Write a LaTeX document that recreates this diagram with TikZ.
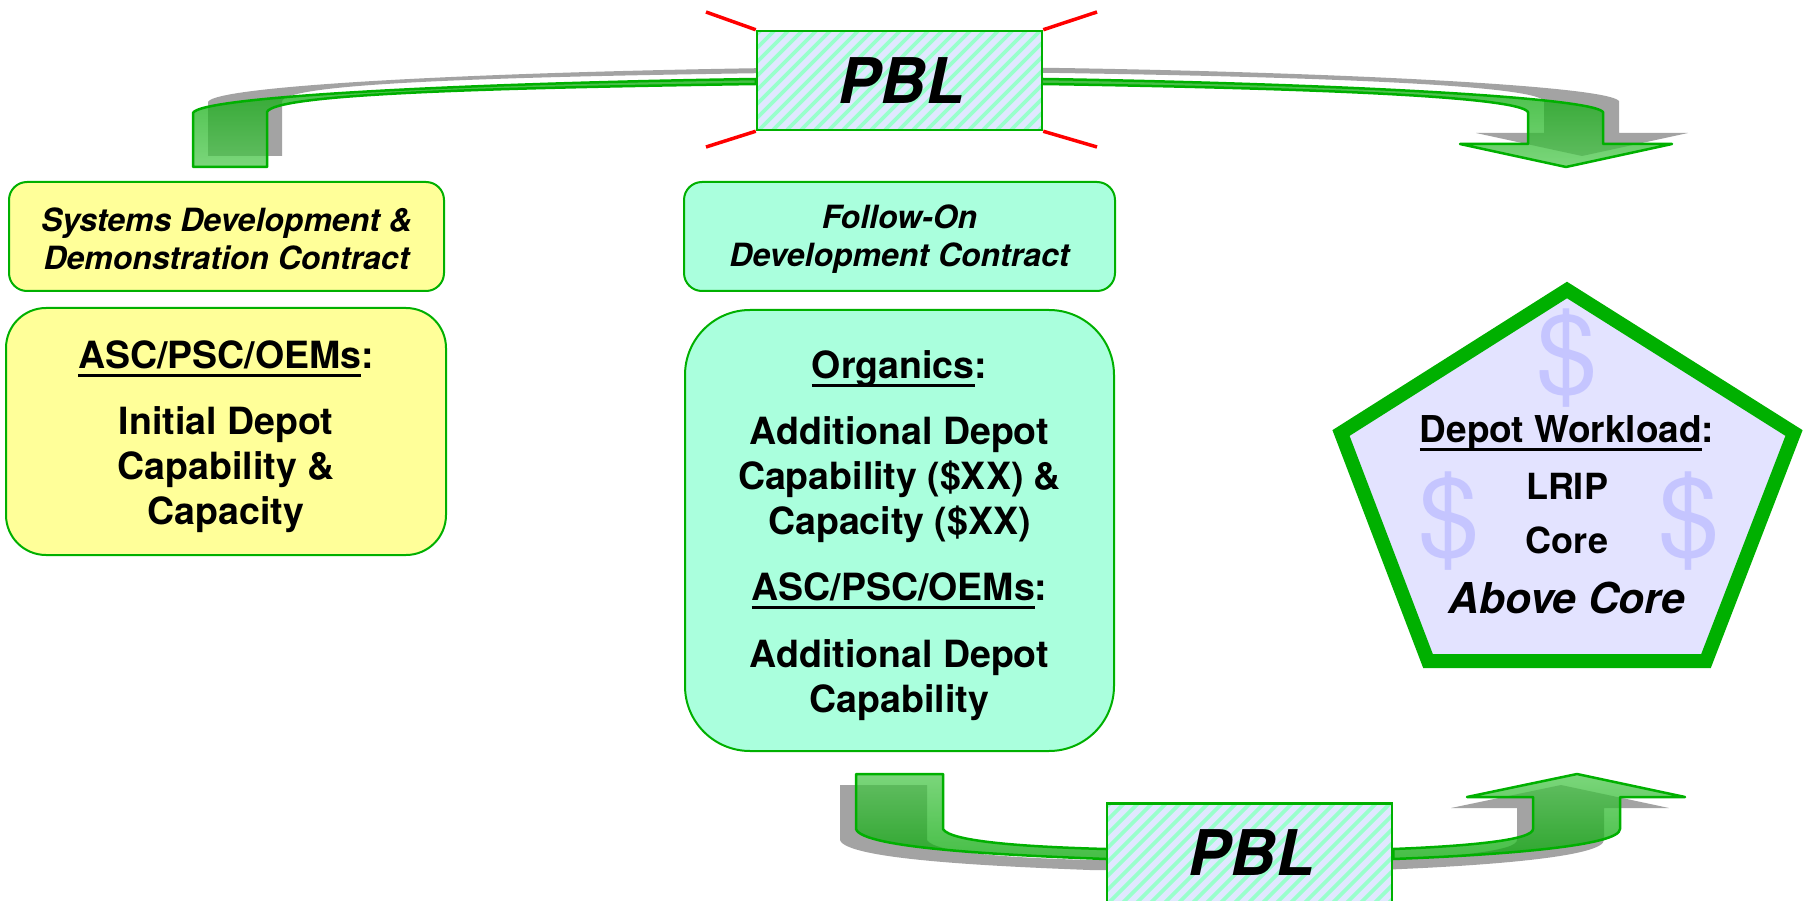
\documentclass[tikz,border=0pt]{standalone}
\usepackage{fontspec}
\setmainfont{TeX Gyre Heros}
\usetikzlibrary{backgrounds}
\definecolor{lineGreen}{HTML}{00B000}
\definecolor{boxYellow}{HTML}{FFFF99}
\definecolor{boxTeal}{HTML}{AAFFDD}
\definecolor{hatchBlue}{HTML}{E0E8FF}
\definecolor{hatchMint}{HTML}{99FFCC}
\definecolor{penFill}{HTML}{E3E3FF}
\definecolor{dollarBlue}{HTML}{C5C5FF}
\definecolor{shadowGray}{HTML}{A3A3A3}
\definecolor{arrowLight}{HTML}{4FC84F}
\definecolor{arrowDark}{HTML}{08A808}
\newcommand{\heavyUnder}[1]{\setbox0\hbox{#1}\rlap{\rule[-8.5pt]{\wd0}{2.8pt}}\box0}
\newcommand{\pathTopLeft}{(193,167) -- (193,113) .. controls (200,96) and (480,83) .. ([yshift=1.5pt]pblTop.west) -- ([yshift=-3.5pt]pblTop.west) .. controls (480,88) and (275,94) .. (267,112) -- (267,167) -- cycle}
\newcommand{\pathTopRight}{([xshift=-20pt,yshift=1.5pt]pblTop.east) -- ([yshift=1.5pt]pblTop.east) .. controls (1300,83) and (1590,96) .. (1603,112) -- (1603,144) -- (1672,144) -- (1566,167) -- (1460,144) -- (1528,144) -- (1528,112) .. controls (1518,96) and (1300,88) .. ([yshift=-3.5pt]pblTop.east) -- ([xshift=-20pt,yshift=-3.5pt]pblTop.east) -- cycle}
\newcommand{\pathBotLeft}{(856,774) -- (943,774) -- (943,829) .. controls (950,842) and (1030,847) .. ([yshift=4pt]pblBot.west) -- ([xshift=20pt,yshift=4pt]pblBot.west) -- ([xshift=20pt,yshift=-6pt]pblBot.west) -- ([yshift=-6pt]pblBot.west) .. controls (1000,855) and (862,848) .. (856,829) -- cycle}
\newcommand{\pathBotRight}{([yshift=4pt]pblBot.east) .. controls (1470,846) and (1533,840) .. (1533,829) -- (1533,797) -- (1467,797) -- (1577,774) -- (1685,797) -- (1620,797) -- (1620,829) .. controls (1620,846) and (1500,855) .. ([yshift=-6pt]pblBot.east) -- cycle}
\begin{document}
\begin{tikzpicture}
    [x=1pt, y=-1pt,
    pblBox/.style={draw=lineGreen, line width=2.5pt, fill=hatchBlue, minimum width=285pt, minimum height=99pt, inner sep=0pt,
        font=\fontsize{63}{63}\selectfont\bfseries\itshape,
        path picture={\foreach \i in {-110,-96,...,300} \draw[hatchMint, line width=3.8pt] ([xshift=\i pt]path picture bounding box.south west) -- ++(110,-110);}},
    labelBox/.style={draw=lineGreen, line width=2pt, rounded corners=18pt, minimum height=109pt, inner sep=0pt, align=center,
        font=\fontsize{32}{38}\selectfont\bfseries\itshape},
    bodyBox/.style={draw=lineGreen, line width=2pt, inner sep=0pt, align=center,
        font=\fontsize{37.5}{45}\selectfont\bfseries},
    penText/.style={inner sep=0pt, font=\fontsize{36}{36}\selectfont\bfseries},
    dollarSign/.style={inner sep=0pt, text=dollarBlue, font=\fontsize{110}{110}\selectfont},
    redLine/.style={red, line width=3.5pt},
    shadowArrow/.style={fill=shadowGray},
    greenArrow/.style={draw=lineGreen, line width=2.5pt, line join=round, fill opacity=0.75}]
    \useasboundingbox (0,0) rectangle (1808,901);

    \node[pblBox] (pblTop) at (899.5,80.5) {\hspace*{4pt}\raisebox{-2pt}{PBL}};
    \node[pblBox] (pblBot) at (1249.5,853) {\hspace*{4pt}\raisebox{-2pt}{PBL}};

    \begin{scope}[on background layer]
        \fill[shadowArrow, transform canvas={xshift=15pt,yshift=11pt}] \pathTopLeft;
        \fill[shadowArrow, transform canvas={xshift=16pt,yshift=11pt}] \pathTopRight;
        \fill[shadowArrow, transform canvas={xshift=-16pt,yshift=-11pt}] \pathBotLeft;
        \fill[shadowArrow, transform canvas={xshift=-16pt,yshift=-11pt}] \pathBotRight;
        \draw[greenArrow, top color=arrowDark, bottom color=arrowLight] \pathTopLeft;
        \draw[greenArrow, top color=arrowDark, bottom color=arrowLight] \pathTopRight;
        \draw[greenArrow, top color=arrowLight, bottom color=arrowDark] \pathBotLeft;
        \draw[greenArrow, top color=arrowLight, bottom color=arrowDark] \pathBotRight;
    \end{scope}

    \coordinate (redA) at (706,12);
    \coordinate (redB) at (706,147);
    \coordinate (redC) at (1097,12);
    \coordinate (redD) at (1097,147);
    \draw[redLine] (pblTop.north west) -- (redA);
    \draw[redLine] (pblTop.south west) -- (redB);
    \draw[redLine] (pblTop.north east) -- (redC);
    \draw[redLine] (pblTop.south east) -- (redD);

    \node[labelBox, fill=boxYellow, minimum width=435pt] (sdd) at (226.5,236.5) {\rule{0pt}{28pt}Systems Development \&\\Demonstration Contract};
    \node[labelBox, fill=boxTeal, minimum width=431pt] (fod) at (899.5,236.5) {\rule{0pt}{28pt}Follow-On\\Development Contract};

    \node[bodyBox, fill=boxYellow, minimum width=440pt, minimum height=247pt, rounded corners=40pt] (initial) at (226,431.5)
        {\rule{0pt}{38pt}\heavyUnder{ASC/PSC/OEMs}:\\[21pt]Initial Depot\\Capability \&\\Capacity};
    \node[bodyBox, fill=boxTeal, minimum width=429pt, minimum height=441pt, rounded corners=65pt] (additional) at (899.5,530.5)
        {\rule{0pt}{38pt}\heavyUnder{Organics}:\\[21pt]Additional Depot\\Capability (\$XX) \&\\Capacity (\$XX)\\[21pt]\heavyUnder{ASC/PSC/OEMs}:\\[22pt]Additional Depot\\Capability};

    \draw[draw=lineGreen, line width=14pt, fill=penFill, miter limit=10] (1567,290) -- (1794,433) -- (1706,661) -- (1428,661) -- (1341,433) -- cycle;

    \node[dollarSign] (dollarA) at (1567,358) {\$};
    \node[dollarSign] (dollarB) at (1449,521) {\$};
    \node[dollarSign] (dollarC) at (1689,521) {\$};
    \node[penText, font=\fontsize{37}{37}\selectfont\bfseries] (workload) at (1567,433) {\heavyUnder{Depot Workload}:};
    \node[penText] (lrip) at (1567,486) {LRIP};
    \node[penText] (core) at (1567,540) {Core};
    \node[penText, font=\fontsize{42.5}{42.5}\selectfont\bfseries\itshape] (above) at (1567,598) {Above Core};
\end{tikzpicture}
\end{document}
